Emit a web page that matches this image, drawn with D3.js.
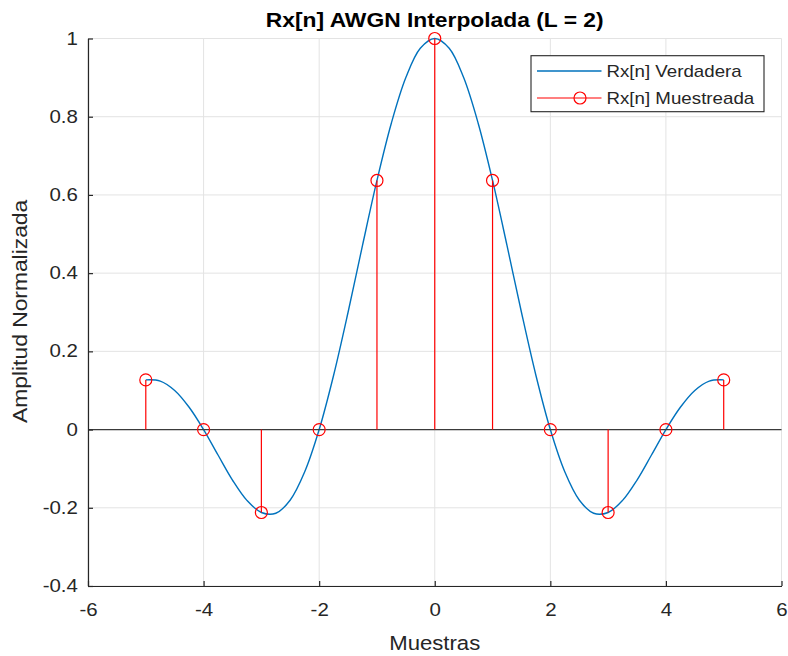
<!DOCTYPE html>
<html>
<head>
<meta charset="utf-8">
<script src="https://cdn.jsdelivr.net/npm/d3@7/dist/d3.min.js"></script>
<style>
  html, body { margin: 0; padding: 0; background: #ffffff; }
  svg { display: block; font-family: "Liberation Sans", Arial, Helvetica, sans-serif; }
</style>
</head>
<body>
<svg id="chart" width="788" height="656"></svg>
<script>
// ---- data ----
const titleText = "Rx[n] AWGN Interpolada (L = 2)";
const xLabelText = "Muestras";
const yLabelText = "Amplitud Normalizada";
const legendLabels = ["Rx[n] Verdadera", "Rx[n] Muestreada"];

const xTicks = [-6, -4, -2, 0, 2, 4, 6];
const yTicks = [-0.4, -0.2, 0, 0.2, 0.4, 0.6, 0.8, 1];

// sampled sequence (stems)
const sampleN = [-5, -4, -3, -2, -1, 0, 1, 2, 3, 4, 5];
const sampleVals = [0.127, 0, -0.212, 0, 0.637, 1, 0.637, 0, -0.212, 0, 0.127];

// interpolated "true" curve
const curveX = [-5, -4.75, -4.5, -4.25, -4, -3.75, -3.5, -3.25, -3, -2.75, -2.5, -2.25, -2, -1.75, -1.5, -1.25, -1, -0.75, -0.5, -0.25,
                 0, 0.25, 0.5, 0.75, 1, 1.25, 1.5, 1.75, 2, 2.25, 2.5, 2.75, 3, 3.25, 3.5, 3.75, 4, 4.25, 4.5, 4.75, 5];
const curveY = [0.127, 0.124, 0.100, 0.057, 0, -0.065, -0.129, -0.181, -0.212, -0.214, -0.180, -0.108, 0, 0.139, 0.300, 0.471, 0.637, 0.784, 0.900, 0.975,
                1, 0.975, 0.900, 0.784, 0.637, 0.471, 0.300, 0.139, 0, -0.108, -0.180, -0.214, -0.212, -0.181, -0.129, -0.065, 0, 0.057, 0.100, 0.124, 0.127];

// ---- layout / style ----
const SX = 1.17; // horizontal glyph stretch of the reference
const M = { left: 88, right: 781.5, top: 38.5, bottom: 586 };
const axisColor = "#262626";
const gridColor = "#e3e3e3";
const blue = "#0072BD";
const red = "#FF0000";

const svg = d3.select("#chart");

const x = d3.scaleLinear().domain([-6, 6]).range([M.left, M.right]);
const y = d3.scaleLinear().domain([-0.4, 1]).range([M.bottom, M.top]);

// grid
const grid = svg.append("g");
grid.selectAll("line.gx").data(xTicks).join("line")
  .attr("class", "gx")
  .attr("x1", d => x(d)).attr("x2", d => x(d))
  .attr("y1", M.top).attr("y2", M.bottom)
  .attr("stroke", gridColor).attr("stroke-width", 1);
grid.selectAll("line.gy").data(yTicks).join("line")
  .attr("class", "gy")
  .attr("x1", M.left).attr("x2", M.right)
  .attr("y1", d => y(d)).attr("y2", d => y(d))
  .attr("stroke", gridColor).attr("stroke-width", 1);

// curve
const line = d3.line().x((d, i) => x(curveX[i])).y(d => y(d)).curve(d3.curveCatmullRom);
svg.append("path").datum(curveY)
  .attr("d", line)
  .attr("fill", "none")
  .attr("stroke", blue)
  .attr("stroke-width", 1.4);

// stem baseline
svg.append("line")
  .attr("x1", M.left).attr("x2", M.right)
  .attr("y1", y(0)).attr("y2", y(0))
  .attr("stroke", "#3a3a3a").attr("stroke-width", 1.2);

// stems
const stems = svg.append("g");
stems.selectAll("line").data(sampleN).join("line")
  .attr("x1", d => x(d)).attr("x2", d => x(d))
  .attr("y1", y(0)).attr("y2", (d, i) => y(sampleVals[i]))
  .attr("stroke", red).attr("stroke-width", 1.2);
stems.selectAll("circle").data(sampleN).join("circle")
  .attr("cx", d => x(d)).attr("cy", (d, i) => y(sampleVals[i]))
  .attr("r", 6)
  .attr("fill", "none").attr("stroke", red).attr("stroke-width", 1.2);

// axes
const xAxis = d3.axisBottom(x).tickValues(xTicks).tickFormat(d => String(d))
  .tickSizeInner(-5).tickSizeOuter(0).tickPadding(18);
const yAxis = d3.axisLeft(y).tickValues(yTicks).tickFormat(d => String(d))
  .tickSizeInner(-5).tickSizeOuter(0).tickPadding(8.6);

const gx = svg.append("g").attr("transform", `translate(0,${M.bottom})`).call(xAxis);
const gy = svg.append("g").attr("transform", `translate(${M.left},0)`).call(yAxis);
[gx, gy].forEach(g => {
  g.select(".domain").attr("stroke", axisColor).attr("stroke-width", 1.2);
  g.selectAll(".tick line").attr("stroke", axisColor).attr("stroke-width", 1.2);
  g.selectAll(".tick text")
    .attr("fill", axisColor)
    .attr("font-size", 17.5)
    .attr("font-family", "'Liberation Sans', Arial, sans-serif")
    .attr("transform", `scale(${SX},1)`);
});

// title
svg.append("text")
  .attr("transform", `translate(${(M.left + M.right) / 2},27) scale(${SX},1)`)
  .attr("text-anchor", "middle")
  .attr("font-weight", "bold")
  .attr("font-size", 19.5)
  .attr("fill", "#000")
  .text(titleText);

// x label
svg.append("text")
  .attr("transform", `translate(${(M.left + M.right) / 2},650) scale(${SX * 0.97},1)`)
  .attr("text-anchor", "middle")
  .attr("font-size", 19.5)
  .attr("fill", axisColor)
  .text(xLabelText);

// y label
svg.append("text")
  .attr("transform", `translate(27,${(196.7 + 426) / 2}) rotate(-90) scale(${SX},1)`)
  .attr("text-anchor", "middle")
  .attr("font-size", 19.5)
  .attr("fill", axisColor)
  .text(yLabelText);

// legend
const lg = svg.append("g");
lg.append("rect")
  .attr("x", 531).attr("y", 55.7).attr("width", 233).attr("height", 56)
  .attr("fill", "#fff").attr("stroke", axisColor).attr("stroke-width", 1.1);
const rowY = [71, 98];
lg.append("line").attr("x1", 537).attr("x2", 601.5).attr("y1", rowY[0]).attr("y2", rowY[0])
  .attr("stroke", blue).attr("stroke-width", 1.4);
lg.append("line").attr("x1", 537).attr("x2", 601.5).attr("y1", rowY[1]).attr("y2", rowY[1])
  .attr("stroke", red).attr("stroke-width", 1.2);
lg.append("circle").attr("cx", 580).attr("cy", rowY[1]).attr("r", 6)
  .attr("fill", "none").attr("stroke", red).attr("stroke-width", 1.2);
lg.selectAll("text").data(legendLabels).join("text")
  .attr("transform", (d, i) => `translate(606.5,${rowY[i] + 5.5}) scale(${SX},1)`)
  .attr("font-size", 16)
  .attr("fill", axisColor)
  .text(d => d);
</script>
</body>
</html>
